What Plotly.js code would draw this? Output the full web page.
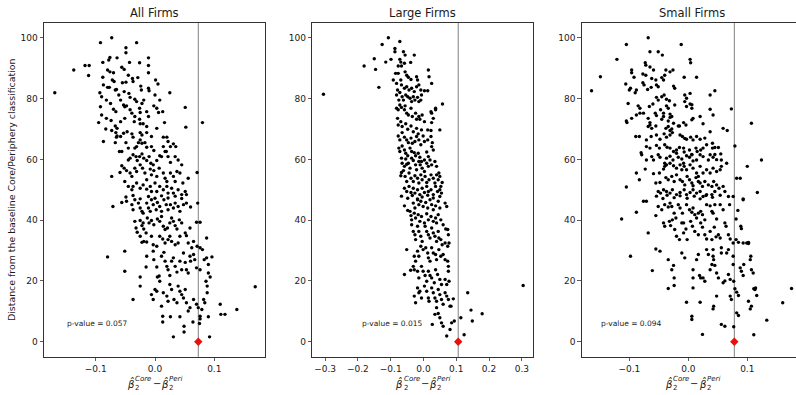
<!DOCTYPE html>
<html>
<head>
<meta charset="utf-8">
<script src="https://cdn.plot.ly/plotly-3.0.1.min.js"></script>
<style>
html, body { margin: 0; padding: 0; overflow: hidden; background: #fff; }
#chart { width: 803px; height: 395px; }
</style>
</head>
<body>
<div id="chart"></div>
<script>
// ---------------- data ----------------
const titles = ['All Firms', 'Large Firms', 'Small Firms'];
const pValues = ['0.057', '0.015', '0.094'];
const observed = [0.073, 0.106, 0.078];
const yTicks = [0, 20, 40, 60, 80, 100];
const xTicksAll = [-0.1, 0, 0.1];
const xTicksLarge = [-0.3, -0.2, -0.1, 0, 0.1, 0.2, 0.3];
const xTicksSmall = [-0.1, 0, 0.1];

// [difference in beta estimates, distance from baseline classification]
const allFirms = [
[-0.169,81.9],[-0.137,89.4],[-0.118,90.9],[-0.111,90.9],[-0.112,87.6],[-0.092,98.4],[-0.073,100],[-0.031,98.4],[-0.049,96.7],[-0.049,95.1],[-0.076,93.5],[-0.078,92.7],[-0.064,93.4],[-0.088,91.9],[-0.043,91.9],[-0.026,91.8],[-0.011,93.4],[-0.011,90.9],[-0.011,88.5],[-0.056,90.3],[-0.052,89.6],[-0.080,89.4],[-0.076,88.8],[-0.070,88.5],[-0.088,87.0],[-0.045,87.7],[-0.038,86.6],[-0.029,86.9],[-0.087,84.5],[-0.080,83.7],[-0.072,86.1],[-0.069,85.6],[-0.055,85.2],[-0.049,85.4],[-0.037,85.6],[-0.024,84.1],[-0.023,82.8],[0.001,86.1],[0.005,84.8],[-0.011,83.4],[-0.010,82.6],[0.025,81.9],[-0.093,81.9],[-0.090,80.6],[-0.077,83.7],[-0.067,82.8],[-0.065,83.0],[-0.061,81.2],[-0.058,79.5],[-0.052,82.3],[-0.044,81.7],[-0.042,80.4],[-0.034,79.8],[-0.031,79.0],[-0.022,78.4],[-0.019,79.5],[0.000,81.2],[0.008,79.5],[-0.002,77.6],[0.003,76.8],[0.051,77.1],[-0.092,77.3],[-0.090,74.6],[-0.082,79.5],[-0.075,78.4],[-0.070,76.5],[-0.066,75.7],[-0.053,77.9],[-0.051,77.3],[-0.048,77.6],[-0.042,76.3],[-0.039,75.2],[-0.026,76.8],[-0.025,75.4],[-0.014,75.7],[-0.011,74.1],[0.006,75.4],[0.013,75.7],[-0.095,72.1],[-0.082,73.5],[-0.074,72.8],[-0.067,71.0],[-0.064,70.2],[-0.058,72.4],[-0.051,73.5],[-0.034,74.1],[-0.035,72.4],[-0.026,73.2],[-0.025,71.7],[-0.014,70.8],[-0.020,71.7],[0.003,70.2],[0.016,72.1],[0.052,70.6],[0.080,72.1],[-0.083,70.0],[-0.073,69.5],[-0.066,68.8],[-0.064,67.7],[-0.058,67.5],[-0.053,68.6],[-0.047,69.1],[-0.039,68.4],[-0.037,67.3],[-0.025,68.8],[-0.022,68.0],[-0.014,68.8],[-0.006,67.5],[-0.087,65.9],[-0.067,65.5],[-0.065,67.3],[-0.060,62.6],[-0.056,62.6],[-0.049,65.5],[-0.045,63.7],[-0.034,63.7],[-0.031,64.2],[-0.028,65.5],[-0.025,66.4],[-0.022,65.3],[-0.017,65.5],[-0.014,64.0],[-0.006,64.2],[-0.002,62.9],[0.014,67.3],[0.020,67.3],[0.022,65.9],[0.026,64.2],[0.031,65.1],[0.035,64.2],[0.014,64.2],[0.017,62.6],[-0.073,54.4],[-0.059,55.7],[-0.056,57.9],[-0.045,59.8],[-0.042,60.4],[-0.037,61.5],[-0.032,60.9],[-0.030,59.6],[-0.026,60.9],[-0.022,61.8],[-0.019,60.4],[-0.014,59.6],[-0.010,60.9],[-0.007,58.7],[-0.003,58.2],[0.003,59.6],[0.008,61.2],[0.011,60.9],[0.019,62.6],[0.022,60.9],[0.026,59.0],[0.034,60.9],[0.039,59.8],[0.045,58.2],[0.042,55.5],[0.056,53.8],[0.071,55.7],[-0.052,57.1],[-0.048,56.3],[-0.042,55.5],[-0.039,54.4],[-0.034,57.1],[-0.031,56.0],[-0.025,58.2],[-0.021,57.1],[-0.017,55.5],[-0.014,53.3],[-0.008,56.8],[-0.006,54.9],[-0.002,56.3],[0.003,54.4],[0.007,57.1],[0.014,55.5],[0.017,53.8],[0.020,52.7],[0.026,55.5],[0.031,54.4],[0.037,56.0],[0.034,52.7],[0.047,52.2],[-0.051,52.7],[-0.045,51.1],[-0.039,50.0],[-0.037,51.1],[-0.031,52.2],[-0.025,50.5],[-0.020,51.6],[-0.014,50.2],[-0.008,51.1],[-0.006,49.4],[0.000,52.2],[0.003,49.4],[0.008,51.1],[0.014,50.0],[0.020,51.1],[0.022,48.9],[0.028,50.5],[0.031,48.9],[0.039,50.0],[0.045,48.4],[0.051,49.4],[0.053,48.4],
[-0.049,47.6],[-0.037,48.1],[-0.025,47.0],[-0.011,47.8],[0.000,47.2],[0.011,48.0],[0.022,47.3],[0.034,47.9],[0.045,47.1],[-0.071,44.5],[-0.056,45.8],[-0.048,46.2],[-0.039,45.1],[-0.037,43.4],[-0.034,46.7],[-0.028,45.6],[-0.025,44.0],[-0.022,42.9],[-0.020,42.3],[-0.014,45.6],[-0.011,44.0],[-0.008,42.9],[-0.006,46.7],[-0.003,45.1],[0.002,43.4],[0.004,45.8],[0.008,44.5],[0.011,42.9],[0.015,46.7],[0.019,45.1],[0.022,43.4],[0.026,45.1],[0.031,44.0],[0.034,45.6],[0.039,44.5],[0.042,42.9],[0.048,45.1],[0.053,45.6],[0.060,44.3],[0.072,45.6],[-0.034,39.6],[-0.032,37.4],[-0.030,36.0],[-0.025,39.9],[-0.022,38.2],[-0.020,39.1],[-0.019,37.1],[-0.015,35.8],[-0.013,40.7],[-0.010,39.1],[-0.006,39.9],[-0.002,38.5],[0.004,40.4],[0.008,39.6],[0.011,41.2],[0.014,38.0],[0.017,36.9],[0.021,37.4],[0.025,39.1],[0.028,40.7],[0.031,39.6],[0.034,38.2],[0.037,37.1],[0.041,40.1],[0.045,39.1],[-0.025,34.7],[-0.022,32.7],[-0.019,33.0],[-0.014,32.8],[-0.006,34.7],[-0.003,31.9],[0.003,31.4],[0.008,34.7],[0.013,33.8],[0.017,32.5],[0.022,33.6],[0.025,34.7],[0.028,33.0],[0.034,31.9],[0.039,32.5],[0.042,34.7],[0.051,35.8],[0.053,34.9],[0.059,37.4],[0.056,32.5],[0.070,39.3],[0.076,39.3],[0.062,30.9],[0.065,33.0],[0.071,31.4],[0.076,30.9],[0.087,34.1],[-0.080,27.9],[-0.051,29.8],[-0.051,23.2],[-0.025,21.3],[-0.014,28.1],[-0.015,24.6],[-0.003,29.8],[-0.002,27.0],[0.003,24.6],[0.004,21.3],[0.011,28.1],[0.015,29.4],[0.007,21.6],[0.008,19.9],[0.017,26.5],[0.020,24.8],[0.022,23.7],[0.025,21.8],[0.028,26.5],[0.031,27.6],[0.034,24.8],[0.037,22.9],[0.042,26.5],[0.045,23.7],[0.048,29.2],[0.051,26.1],[0.053,23.7],[0.056,22.6],[0.059,28.1],[0.060,26.5],[0.065,28.7],[0.067,27.0],[0.070,24.3],[0.076,23.7],[0.080,30.3],[0.083,27.0],[0.087,27.6],[0.090,25.4],[0.096,27.9],[0.090,22.6],[0.093,21.3],[0.086,19.9],[0.088,18.3],[0.110,12.3],[0.111,9.0],[0.118,9.0],[0.138,10.6],[0.169,18.1],[-0.037,13.9],[-0.025,18.3],[-0.006,15.5],[-0.003,13.9],[0.000,17.2],[0.003,16.6],[0.011,11.7],[0.014,16.1],[0.020,15.0],[0.022,13.3],[0.025,18.8],[0.028,17.2],[0.032,13.9],[0.037,12.8],[0.039,18.3],[0.042,16.6],[0.045,15.5],[0.048,14.4],[0.051,17.2],[0.053,12.8],[0.056,10.1],[0.059,11.2],[0.065,13.9],[0.070,12.3],[0.073,11.2],[0.079,10.6],[0.082,13.9],[0.076,8.4],[0.088,16.1],[0.084,12.8],[0.013,8.4],[0.013,6.5],[0.026,8.2],[0.042,8.2],[0.049,5.1],[0.049,3.2],[0.064,6.5],[0.076,7.5],[0.075,6.0],[0.031,1.6],[0.092,1.6],[0.090,8.2]
];

const largeFirms = [
[-0.305,81.4],[-0.107,100],[-0.126,97.8],[-0.072,98.8],[-0.087,96.5],[-0.087,95.4],[-0.061,95.4],[-0.056,94.3],[-0.028,94.3],[-0.150,93.1],[-0.099,92.9],[-0.115,92.0],[-0.181,90.7],[-0.146,89.6],[-0.072,92.9],[-0.069,92.0],[-0.077,90.7],[-0.067,90.7],[-0.058,91.6],[-0.039,91.9],[-0.085,88.3],[-0.077,88.3],[-0.056,88.8],[-0.051,87.7],[-0.046,87.0],[-0.038,86.3],[-0.021,87.2],[-0.018,86.1],[0.015,89.4],[0.017,87.2],[0.025,85.0],[-0.136,83.7],[-0.092,86.1],[-0.082,85.0],[-0.069,86.1],[-0.067,84.5],[-0.058,83.4],[-0.051,83.9],[-0.044,82.8],[-0.036,83.4],[-0.028,82.3],[-0.021,83.9],[-0.014,84.5],[-0.008,82.8],[0.003,82.6],[0.013,82.6],[-0.079,82.8],[-0.082,81.2],[-0.072,82.0],[-0.075,79.5],[-0.065,80.6],[-0.061,79.5],[-0.054,81.2],[-0.048,80.6],[-0.041,80.1],[-0.036,79.0],[-0.031,80.6],[-0.026,79.5],[-0.018,80.4],[-0.014,79.0],[-0.006,81.2],[-0.008,79.5],[-0.082,76.8],[-0.077,76.3],[-0.072,77.9],[-0.067,77.1],[-0.058,76.3],[-0.056,77.6],[-0.051,75.2],[-0.046,74.6],[-0.038,76.8],[-0.034,74.1],[-0.024,75.2],[-0.021,73.2],[-0.014,74.1],[-0.011,73.2],[-0.004,74.6],[0.003,72.4],[0.025,75.2],[0.030,73.5],[0.037,76.3],[0.023,75.7],[0.058,78.2],[0.037,76.8],[0.025,72.1],[-0.079,73.5],[-0.077,71.3],[-0.069,72.4],[-0.065,70.8],[-0.054,71.7],[-0.048,69.9],[-0.038,71.0],[-0.031,69.1],[-0.021,70.2],[-0.016,68.4],[-0.006,69.7],[-0.001,67.7],[0.013,69.7],[0.023,69.5],[0.050,69.7],[-0.077,67.7],[-0.072,66.4],[-0.065,68.8],[-0.058,67.3],[-0.051,66.4],[-0.046,65.5],[-0.038,67.0],[-0.034,65.3],[-0.026,65.9],[-0.021,67.5],[-0.014,66.4],[-0.008,64.8],[0.003,65.9],[0.013,66.4],[0.023,67.5],[0.027,65.5],[-0.075,63.7],[-0.072,62.6],[-0.065,64.4],[-0.058,63.1],[-0.054,62.0],[-0.048,61.2],[-0.041,63.7],[-0.036,62.6],[-0.028,62.2],[-0.024,61.2],[-0.016,62.0],[-0.011,60.7],[-0.006,59.3],[0.003,59.8],[0.010,62.4],[0.015,60.9],[0.025,64.2],[0.030,63.1],[-0.067,60.4],[-0.065,58.7],[-0.058,57.7],[-0.061,56.3],[-0.054,60.1],[-0.051,58.4],[-0.046,58.7],[-0.041,57.1],[-0.036,60.4],[-0.031,59.6],[-0.024,58.2],[-0.021,56.6],[-0.014,59.3],[-0.010,58.2],[-0.004,57.1],[0.003,56.0],[0.010,58.7],[0.015,57.7],[0.020,59.8],[0.025,58.2],[0.035,59.3],[0.040,57.7],[0.047,55.5],[0.050,54.4],[-0.067,55.7],[-0.069,54.6],[-0.056,54.4],[-0.051,52.7],[-0.044,55.5],[-0.038,53.8],[-0.031,52.7],[-0.026,54.6],[-0.018,53.8],[-0.014,52.2],[-0.008,54.9],[-0.004,53.3],[0.005,54.4],[0.010,52.4],[0.017,53.3],[0.023,54.9],[0.030,53.8],[0.035,52.2],[0.040,54.9],[0.045,53.3],[0.057,52.4],[0.053,51.1],[-0.058,50.5],[-0.051,49.4],[-0.044,51.1],[-0.038,49.1],[-0.031,50.5],[-0.026,48.9],[-0.018,50.0],[-0.011,48.4],[-0.004,50.5],[0.003,49.1],[0.010,51.1],[0.015,49.4],[0.023,50.0],[0.030,48.4],[0.037,51.1],[0.043,49.4],[0.050,50.0],[0.055,48.9],
[-0.067,47.9],[-0.048,47.2],[-0.034,48.1],[-0.018,47.0],[-0.004,47.6],[0.013,48.2],[0.030,47.3],[0.050,47.8],[-0.058,44.7],[-0.048,43.2],[-0.041,42.9],[-0.031,45.6],[-0.026,44.0],[-0.018,46.7],[-0.014,45.1],[-0.008,46.2],[-0.001,44.5],[0.007,45.8],[0.013,44.0],[0.020,46.7],[0.025,45.1],[0.030,43.4],[0.037,44.7],[0.045,46.2],[0.050,44.0],[0.066,45.6],[0.071,44.5],[-0.038,41.5],[-0.036,40.1],[-0.028,42.3],[-0.024,40.7],[-0.016,41.8],[-0.011,39.6],[-0.006,41.2],[0.003,39.1],[0.010,42.1],[0.015,40.1],[0.023,41.2],[0.030,39.6],[0.037,40.7],[0.040,39.1],[0.045,41.8],[0.053,40.1],[0.060,38.5],[0.068,37.1],[0.074,36.9],[0.076,35.2],[-0.036,38.5],[-0.031,36.3],[-0.026,35.2],[-0.024,33.6],[-0.018,38.0],[-0.014,36.3],[-0.008,34.7],[-0.004,33.0],[0.005,38.0],[0.010,36.3],[0.015,35.2],[0.020,34.1],[0.025,37.4],[0.030,35.8],[0.035,34.7],[0.040,33.0],[0.045,36.3],[0.047,34.1],[0.053,33.6],[0.057,31.9],[0.066,32.5],[0.074,31.4],[0.078,32.5],[-0.051,30.3],[-0.039,23.5],[-0.058,22.1],[-0.028,28.1],[-0.024,26.5],[-0.018,29.8],[-0.014,28.1],[-0.008,31.4],[-0.001,30.3],[0.007,30.9],[0.013,29.2],[0.015,27.6],[0.020,26.5],[0.025,30.9],[0.030,29.2],[0.037,28.7],[0.040,27.0],[0.047,30.3],[0.053,28.1],[0.060,28.7],[0.066,27.0],[0.074,26.5],[0.076,24.8],[0.076,23.2],[0.078,19.9],[-0.031,24.8],[-0.028,23.7],[-0.018,23.2],[-0.014,21.0],[-0.006,24.8],[-0.001,23.2],[0.005,21.8],[0.010,19.9],[0.015,23.2],[0.020,21.8],[0.025,21.0],[0.033,19.4],[0.037,23.7],[0.043,22.1],[0.050,20.5],[0.055,18.8],[0.066,20.5],[0.071,18.8],[-0.028,15.0],[-0.024,12.8],[-0.018,17.7],[-0.014,16.1],[-0.011,16.6],[-0.006,14.4],[0.003,18.3],[0.010,16.6],[0.015,14.4],[0.017,13.3],[0.025,17.7],[0.030,16.1],[0.035,14.4],[0.040,13.3],[0.045,17.2],[0.050,15.5],[0.055,13.9],[0.060,12.3],[0.066,16.1],[0.071,15.0],[0.076,13.9],[0.081,11.7],[0.084,11.7],[0.091,14.1],[0.027,5.7],[0.035,9.0],[0.040,11.2],[0.045,9.3],[0.050,7.9],[0.055,6.2],[0.060,5.1],[0.071,1.9],[0.081,4.0],[0.086,6.2],[0.094,6.8],[0.114,7.9],[0.124,2.3],[0.135,16.1],[0.145,10.4],[0.149,6.8],[0.179,9.2],[0.304,18.5]
];

const smallFirms = [
[-0.164,82.6],[-0.149,87.2],[-0.121,92.9],[-0.105,97.8],[-0.068,100],[-0.065,95.4],[-0.051,95.4],[-0.044,94.3],[-0.012,97.8],[-0.096,89.4],[-0.096,88.5],[-0.092,87.0],[-0.106,84.8],[-0.100,82.8],[-0.098,83.4],[-0.073,91.8],[-0.072,91.0],[-0.065,90.4],[-0.059,89.4],[-0.077,88.1],[-0.072,87.7],[-0.062,86.6],[-0.055,86.1],[-0.045,86.9],[-0.042,86.1],[-0.038,89.4],[-0.031,88.8],[-0.026,89.4],[-0.040,87.7],[-0.025,84.1],[-0.023,83.4],[-0.007,87.0],[0.003,92.9],[0.004,91.8],[0.014,87.0],[-0.090,81.9],[-0.088,82.8],[-0.077,85.2],[-0.075,84.5],[-0.069,83.0],[-0.063,83.7],[-0.054,84.5],[-0.051,83.9],[-0.045,80.6],[-0.041,81.2],[-0.037,79.8],[-0.032,79.3],[-0.006,81.2],[-0.003,80.1],[0.003,81.7],[0.006,78.0],[0.037,81.2],[0.045,82.6],[-0.102,78.4],[-0.105,72.6],[-0.104,72.1],[-0.085,77.6],[-0.082,76.8],[-0.076,75.2],[-0.066,77.4],[-0.060,78.2],[-0.054,80.4],[-0.051,79.5],[-0.047,76.3],[-0.042,75.2],[-0.037,77.6],[-0.034,76.8],[-0.031,74.9],[-0.028,74.1],[-0.023,77.9],[-0.006,79.0],[-0.003,77.4],[0.003,78.2],[0.006,76.8],[0.037,76.5],[0.042,74.6],[0.073,76.6],[-0.096,73.5],[-0.088,74.6],[-0.082,75.2],[-0.068,73.5],[-0.065,72.1],[-0.056,75.2],[-0.054,74.4],[-0.045,73.2],[-0.042,74.1],[-0.034,72.6],[-0.031,73.8],[-0.025,71.9],[-0.017,71.0],[-0.008,72.1],[-0.004,71.3],[0.006,73.0],[0.008,73.5],[0.020,74.1],[-0.068,70.8],[-0.065,71.3],[-0.062,70.2],[-0.055,71.0],[-0.038,70.2],[-0.034,70.8],[-0.031,69.5],[-0.028,70.0],[-0.015,71.0],[0.025,71.7],[0.059,70.2],[0.066,69.5],[0.107,71.9],[-0.089,67.5],[-0.083,67.5],[-0.071,66.4],[-0.063,67.5],[-0.054,68.0],[-0.048,66.6],[-0.041,68.4],[-0.037,67.3],[-0.031,68.0],[-0.027,68.8],[-0.014,68.0],[-0.010,67.5],[-0.006,66.9],[-0.003,66.6],[0.004,67.3],[0.008,66.4],[0.014,67.5],[0.020,66.6],[0.028,67.0],[0.037,69.1],[-0.071,64.2],[-0.065,63.7],[-0.054,64.6],[-0.049,63.7],[-0.040,64.8],[-0.036,64.0],[-0.031,63.7],[-0.025,62.6],[-0.020,63.1],[-0.015,63.9],[-0.008,63.7],[-0.007,62.4],[0.002,63.1],[0.006,61.6],[0.013,63.7],[0.015,62.6],[0.021,63.1],[0.025,63.7],[0.031,64.8],[0.041,65.3],[0.041,63.7],[0.045,63.9],[0.051,63.9],[0.055,61.8],[0.079,64.4],[-0.080,62.2],[-0.079,61.5],[-0.071,59.8],[-0.062,60.9],[-0.059,59.8],[-0.051,61.5],[-0.048,60.7],[-0.040,58.7],[-0.037,60.4],[-0.031,61.0],[-0.026,59.8],[-0.020,62.0],[-0.017,60.7],[-0.011,60.1],[-0.008,58.7],[-0.003,61.2],[0.002,60.7],[0.006,61.5],[0.008,59.5],[0.014,59.8],[0.020,61.5],[0.025,60.9],[0.034,59.8],[0.037,61.5],[0.042,60.7],[0.045,61.6],[0.048,59.9],[0.056,59.8],[0.065,58.7],[0.100,57.7],[0.124,59.8],[-0.073,56.8],[-0.088,55.5],[-0.059,55.3],[-0.049,55.5],[-0.042,56.8],[-0.040,57.7],[-0.037,58.2],[-0.031,58.7],[-0.025,57.9],[-0.020,57.1],[-0.014,58.2],[-0.011,56.6],[-0.007,57.7],[-0.003,56.6],[0.003,58.2],[0.008,57.1],[0.014,55.5],[0.017,54.4],[0.020,57.7],[0.025,55.5],[0.031,56.6],[0.037,55.5],[0.042,57.1],[0.048,56.0],[0.054,56.6],[0.056,57.7],[0.082,53.8],[0.088,53.8],[-0.105,50.9],[-0.083,53.3],[-0.055,52.2],[-0.048,52.4],[-0.038,54.0],[-0.034,53.3],[-0.028,54.4],[-0.024,52.7],[-0.020,54.9],[-0.014,53.3],[-0.010,52.7],[-0.006,51.6],[-0.002,54.4],[0.002,53.3],[0.006,52.2],[0.008,51.3],[0.013,54.0],[0.017,52.7],[0.020,52.2],[0.024,51.1],[0.028,52.7],[0.034,51.6],[0.040,51.1],[0.043,52.7],[0.048,51.6],[0.052,50.5],[0.059,51.1],[0.062,49.4],[-0.051,49.4],[-0.047,48.9],[-0.042,50.0],[-0.037,49.4],[-0.031,48.9],[-0.027,50.0],[-0.020,48.4],[-0.014,49.1],[-0.007,50.0],[-0.003,48.4],[0.003,49.1],[0.008,50.0],[0.014,48.9],[0.020,49.4],[0.025,47.8],[0.031,48.4],[0.040,48.4],[0.045,49.4],[0.117,49.1],[0.093,47.0],
[-0.054,47.9],[-0.043,47.1],[-0.036,48.2],[-0.024,47.4],[-0.014,48.0],[-0.002,47.2],[0.010,47.9],[0.020,47.0],[0.030,48.1],[0.041,47.5],[0.054,48.2],[0.068,47.8],[0.076,47.8],[-0.076,46.2],[-0.071,46.2],[-0.088,42.6],[-0.113,40.4],[-0.055,41.5],[-0.051,44.5],[-0.045,43.4],[-0.040,45.1],[-0.034,44.3],[-0.031,45.6],[-0.028,44.5],[-0.024,42.3],[-0.021,40.7],[-0.017,45.1],[-0.014,44.0],[-0.010,42.3],[-0.008,39.1],[-0.003,45.1],[0.002,43.4],[0.006,42.6],[0.008,44.0],[0.011,41.8],[0.014,40.7],[0.017,42.3],[0.021,42.9],[0.024,41.8],[0.028,40.1],[0.031,45.1],[0.037,44.7],[0.040,42.9],[0.042,42.3],[0.045,45.1],[0.048,40.4],[0.054,45.1],[0.059,43.4],[0.070,45.1],[0.084,43.2],[0.093,46.7],[-0.042,39.1],[-0.040,38.0],[-0.032,39.6],[-0.030,38.2],[-0.027,40.1],[-0.023,36.9],[-0.020,34.7],[-0.015,33.6],[-0.011,39.1],[-0.008,35.8],[-0.004,37.1],[-0.002,33.6],[0.004,39.6],[0.007,38.0],[0.011,36.3],[0.017,35.2],[0.021,39.1],[0.024,37.7],[0.028,35.2],[0.031,33.8],[0.037,36.3],[0.040,33.6],[0.044,37.7],[0.047,34.5],[0.051,35.2],[0.054,34.1],[0.062,39.1],[0.064,38.0],[0.068,35.2],[0.071,33.8],[0.081,40.4],[0.089,38.0],[0.090,37.2],[0.076,32.5],[0.081,33.6],[0.085,32.7],[0.093,32.5],[0.102,32.7],[-0.068,35.8],[-0.055,30.5],[-0.048,29.8],[-0.098,28.1],[-0.061,23.4],[-0.034,27.0],[-0.028,23.7],[-0.025,25.1],[-0.024,21.0],[-0.034,17.5],[-0.024,18.5],[-0.011,29.2],[-0.006,27.6],[-0.003,13.0],[0.008,23.7],[0.008,21.0],[0.008,17.7],[0.014,27.0],[0.017,28.7],[0.019,21.8],[0.021,21.0],[0.006,8.4],[0.006,7.3],[0.024,2.4],[0.020,13.0],[0.025,21.0],[0.028,19.9],[0.031,30.3],[0.034,28.7],[0.037,23.7],[0.040,25.4],[0.042,30.3],[0.042,28.1],[0.043,27.0],[0.045,25.1],[0.043,11.7],[0.042,10.8],[0.048,22.6],[0.051,21.0],[0.048,15.0],[0.056,30.9],[0.056,29.2],[0.059,19.4],[0.062,20.0],[0.065,29.2],[0.068,30.3],[0.068,22.1],[0.071,20.5],[0.071,15.0],[0.073,13.9],[0.076,28.1],[0.076,25.4],[0.077,19.9],[0.079,17.4],[0.082,16.3],[0.085,15.2],[0.088,24.3],[0.090,23.2],[0.093,21.8],[0.094,25.4],[0.099,32.5],[0.102,32.3],[0.105,27.0],[0.106,28.1],[0.107,23.7],[0.110,22.6],[0.102,13.3],[0.107,11.7],[0.105,10.8],[0.111,17.4],[0.113,17.2],[0.114,17.7],[0.116,15.2],[0.082,9.5],[0.085,8.6],[0.056,5.7],[0.062,5.1],[0.077,4.9],[0.111,2.3],[0.133,7.1],[0.160,12.8],[0.175,17.5]
];

// ---------------- layout geometry ----------------
const W = 803, H = 395;
const panelLeft = [44, 312.3, 581.7];
const panelWidth = 221;
const plotTop = 22.6, plotBottom = 356.9;
const xRanges = [[-0.1872, 0.1855], [-0.339, 0.335], [-0.1807, 0.1939]];
const pLabelX = [-0.15, -0.19, -0.15];
const series = [allFirms, largeFirms, smallFirms];
const xTickSets = [xTicksAll, xTicksLarge, xTicksSmall];

const FONT = 'DejaVu Sans, Arial, sans-serif';
const TXT = '#1a1a1a';
const fmt = v => (v < 0 ? '\u2212' : '') + Math.abs(v).toFixed(1);

const traces = [];
const layout = {
  width: W, height: H,
  margin: {l: 0, r: 0, t: 0, b: 0},
  paper_bgcolor: '#fff', plot_bgcolor: '#fff',
  showlegend: false,
  font: {family: FONT, color: TXT, size: 9},
  annotations: [], shapes: []
};

function px2fx(px) { return px / W; }
function py2fy(py) { return 1 - py / H; }

for (let i = 0; i < 3; i++) {
  const sfx = i === 0 ? '' : String(i + 1);
  const xa = 'x' + sfx, ya = 'y' + sfx;
  const pts = series[i];
  traces.push({
    type: 'scatter', mode: 'markers',
    x: pts.map(p => p[0]), y: pts.map(p => p[1]),
    xaxis: xa, yaxis: ya,
    marker: {color: '#000', size: 3.4, line: {width: 0}},
    hoverinfo: 'skip', cliponaxis: true
  });
  traces.push({
    type: 'scatter', mode: 'markers',
    x: [observed[i]], y: [0],
    xaxis: xa, yaxis: ya,
    marker: {color: '#e8100c', symbol: 'diamond', size: 6.5, line: {width: 0}},
    hoverinfo: 'skip', cliponaxis: false
  });

  const common = {
    showline: true, mirror: true, linecolor: '#333', linewidth: 1,
    showgrid: false, zeroline: false,
    ticks: 'outside', ticklen: 3.5, tickwidth: 0.8, tickcolor: '#333',
    tickfont: {family: FONT, size: 9, color: TXT}
  };
  layout['xaxis' + sfx] = Object.assign({}, common, {
    domain: [px2fx(panelLeft[i]), px2fx(panelLeft[i] + panelWidth)],
    range: xRanges[i], anchor: ya,
    tickmode: 'array', tickvals: xTickSets[i], ticktext: xTickSets[i].map(fmt)
  });
  layout['yaxis' + sfx] = Object.assign({}, common, {
    domain: [py2fy(plotBottom), py2fy(plotTop)],
    range: [-5, 105], anchor: xa,
    tickmode: 'array', tickvals: yTicks, ticktext: yTicks.map(String)
  });

  // observed value line
  layout.shapes.push({
    type: 'line', xref: xa, yref: ya + ' domain',
    x0: observed[i], x1: observed[i], y0: 0, y1: 1,
    line: {color: '#808080', width: 1}, layer: 'below'
  });

  const cx = panelLeft[i] + panelWidth / 2;
  // panel title
  layout.annotations.push({
    xref: 'paper', yref: 'paper', x: px2fx(cx), y: py2fy(13.3),
    xanchor: 'center', yanchor: 'middle', showarrow: false,
    text: titles[i], font: {family: FONT, size: 11.5, color: TXT}
  });
  // p-value
  layout.annotations.push({
    xref: xa, yref: ya, x: pLabelX[i], y: 6,
    xanchor: 'left', yanchor: 'middle', showarrow: false, borderpad: 0,
    text: 'p-value = ' + pValues[i], font: {family: FONT, size: 7.5, color: TXT}
  });
  // x axis label: beta-hat_2^Core - beta-hat_2^Peri
  const parts = [
    {t: '<i>\u03b2\u0302</i>', dx: -23.5, py: 383, s: 10, a: 'center'},
    {t: '<i>Core</i>', dx: -20.3, py: 379.3, s: 7, a: 'left'},
    {t: '2', dx: -20.3, py: 387.6, s: 7, a: 'left'},
    {t: '\u2212', dx: 2, py: 383, s: 10, a: 'center'},
    {t: '<i>\u03b2\u0302</i>', dx: 10.5, py: 383, s: 10, a: 'center'},
    {t: '<i>Peri</i>', dx: 13.6, py: 379.3, s: 7, a: 'left'},
    {t: '2', dx: 13.6, py: 387.6, s: 7, a: 'left'}
  ];
  parts.forEach(p => layout.annotations.push({
    xref: 'paper', yref: 'paper', x: px2fx(cx + p.dx), y: py2fy(p.py),
    xanchor: p.a, yanchor: 'middle', showarrow: false, borderpad: 0,
    text: p.t, font: {family: FONT, size: p.s, color: TXT}
  }));
}

// shared y axis title
layout.annotations.push({
  xref: 'paper', yref: 'paper', x: px2fx(11.5), y: py2fy(189.5),
  xanchor: 'center', yanchor: 'middle', showarrow: false, textangle: -90,
  text: 'Distance from the baseline Core/Periphery classification',
  font: {family: FONT, size: 9.4, color: TXT}
});

Plotly.newPlot('chart', traces, layout, {staticPlot: true, displayModeBar: false});
</script>
</body>
</html>
